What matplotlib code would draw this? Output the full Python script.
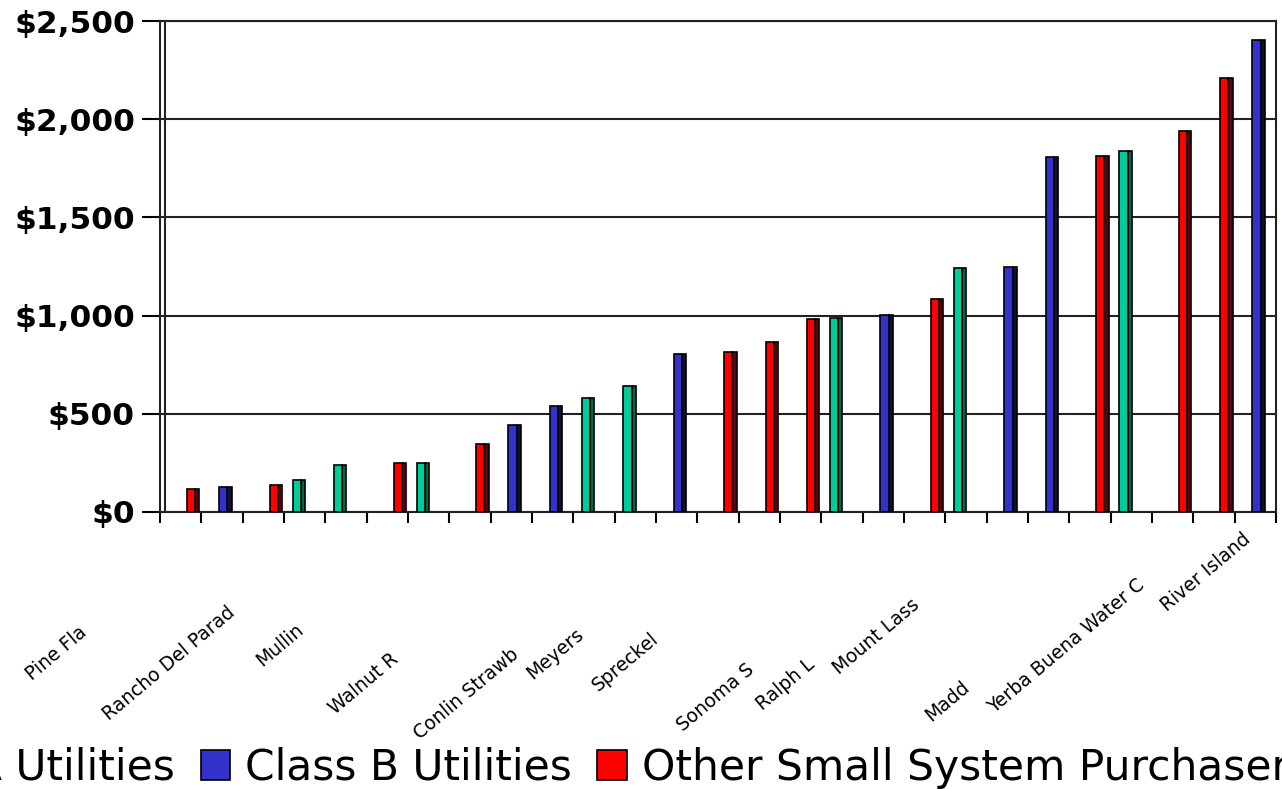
import matplotlib
matplotlib.use("Agg")
import matplotlib.pyplot as plt
from matplotlib.patches import Patch

# one bar per category; series code: A = Class A, B = Class B, O = other purchasers
series = ["O", "B", "O", "A", "A", "O", "A", "O", "B", "B", "A", "A", "B", "O",
          "O", "O", "A", "B", "O", "A", "B", "B", "O", "A", "O", "O", "B"]
values = [115, 125, 135, 165, 240, 250, 250, 345, 445, 540, 580, 640, 805, 815,
          865, 985, 990, 1005, 1085, 1240, 1245, 1810, 1815, 1840, 1940, 2210, 2405]

# truncated axis labels as they appear, with their category position
label_text = ["Pine Fla", "Rancho Del Parad", "Mullin", "Walnut R", "Conlin Strawb",
              "Meyers", "Spreckel", "Sonoma S", "Ralph L", "Mount Lass", "Madd",
              "Yerba Buena Water C", "River Island"]
label_x = [-1.82, 1.75, 3.40, 5.70, 8.61, 10.19, 12.0, 14.31, 15.77, 18.31, 19.52, 23.77, 26.32]
label_y = [-0.240, -0.200, -0.234, -0.295, -0.285, -0.244, -0.254, -0.316, -0.305,
           -0.183, -0.352, -0.143, -0.050]

yticks = [0, 500, 1000, 1500, 2000, 2500]

NAMES = {"A": "Class A Utilities", "B": "Class B Utilities",
         "O": "Other Small System Purchasers"}
FACE = {"A": "#00CC99", "B": "#3333CC", "O": "#FF0000"}
SIDE = {"A": "#006644", "B": "#111133", "O": "#660000"}
OFFSET = {"A": 0.21, "B": 0.43, "O": 0.65}
W, SW = 0.20, 0.10

fig = plt.figure(figsize=(12.82, 7.89), dpi=100)
ax = fig.add_axes([160 / 1282, 1 - 512 / 789, 1116 / 1282, 491 / 789])

for k, (s, v) in enumerate(zip(series, values)):
    x0 = k + OFFSET[s]
    ax.bar(x0 + W + SW / 2, v, width=SW, color=SIDE[s], edgecolor="black",
           linewidth=1.2, zorder=3)
    ax.bar(x0 + W / 2, v, width=W, color=FACE[s], edgecolor="black",
           linewidth=1.2, zorder=4)

ax.set_xlim(0, len(values))
ax.set_ylim(0, 2500)
ax.set_yticks(yticks)
ax.set_yticklabels([f"${t:,}" for t in yticks], fontsize=22.5, fontweight="bold",
                   family="DejaVu Sans")
ax.set_xticks(range(len(values) + 1))
ax.set_xticklabels([])
ax.tick_params(axis="y", length=13, width=1.5, pad=5)
ax.tick_params(axis="x", length=8, width=1.5, direction="out")
ax.grid(axis="y", color="#222222", linewidth=1.5, zorder=1)
for sp in ax.spines.values():
    sp.set_linewidth(1.5)
    sp.set_color("#222222")
ax.axvline(0.12, color="#222222", linewidth=1.5, zorder=2)

for t, x, y in zip(label_text, label_x, label_y):
    ax.text(x, y, t, transform=ax.get_xaxis_transform(), rotation=40,
            rotation_mode="anchor", ha="right", va="center", fontsize=13.5,
            color="black", clip_on=False)

handles = [Patch(facecolor=FACE[s], edgecolor="black", linewidth=1.2,
                 label=NAMES[s]) for s in ["A", "B", "O"]]
fig.legend(handles=handles, loc="center left", bbox_to_anchor=(-0.153, 0.027),
           ncol=3, frameon=False, fontsize=30.5, handlelength=0.7,
           handleheight=0.7, handletextpad=0.35, columnspacing=0.6,
           borderpad=0, borderaxespad=0)

fig.savefig("out.png", dpi=100)
